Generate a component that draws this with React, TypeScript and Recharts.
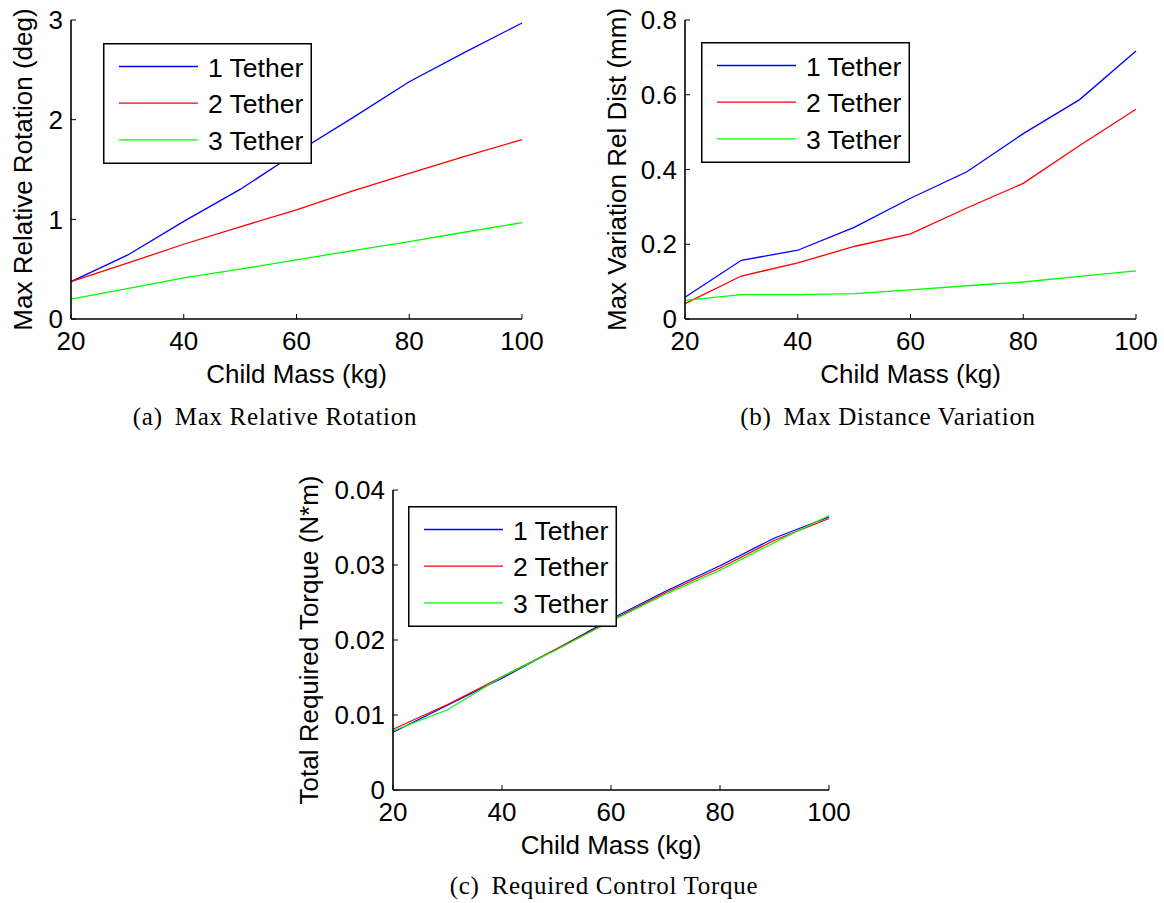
import React from 'react';
import { LineChart, Line, XAxis, YAxis, Legend } from 'recharts';

// Child mass sweep (kg)
const childMass = [20, 30, 40, 50, 60, 70, 80, 90, 100];
const massTicks = [20, 40, 60, 80, 100];
const seriesNames = ['1 Tether', '2 Tether', '3 Tether'];
const seriesColors = ['#0000ff', '#ff0000', '#00ff00'];

// (a) Max relative rotation (deg)
const rotation1 = [0.375, 0.64, 0.98, 1.3, 1.67, 2.02, 2.38, 2.68, 2.97];
const rotation2 = [0.375, 0.56, 0.75, 0.925, 1.095, 1.285, 1.46, 1.635, 1.8];
const rotation3 = [0.2, 0.305, 0.413, 0.5, 0.594, 0.687, 0.777, 0.873, 0.966];
const rotationTicks = [0, 1, 2, 3];

// (b) Max variation of relative distance (mm)
const distance1 = [0.058, 0.157, 0.184, 0.245, 0.323, 0.394, 0.496, 0.587, 0.717];
const distance2 = [0.041, 0.115, 0.15, 0.194, 0.228, 0.297, 0.363, 0.464, 0.561];
const distance3 = [0.05, 0.065, 0.065, 0.068, 0.078, 0.089, 0.099, 0.114, 0.129];
const distanceTicks = [0, 0.2, 0.4, 0.6, 0.8];

// (c) Total required control torque (N*m)
const torque1 = [0.0077, 0.0113, 0.0149, 0.0188, 0.0228, 0.0265, 0.0299, 0.0336, 0.0364];
const torque2 = [0.0081, 0.0114, 0.0151, 0.0188, 0.0226, 0.0263, 0.0296, 0.0333, 0.0362];
const torque3 = [0.0079, 0.0107, 0.0151, 0.0187, 0.0225, 0.0261, 0.0293, 0.033, 0.0366];
const torqueTicks = [0, 0.01, 0.02, 0.03, 0.04];

const SANS = '"Liberation Sans", Arial, sans-serif';
const SERIF = '"Liberation Serif", "Times New Roman", serif';
const FONT_SIZE = 26;

const buildRows = (s1: number[], s2: number[], s3: number[]) =>
  childMass.map((m, i) => ({ mass: m, t1: s1[i], t2: s2[i], t3: s3[i] }));

const LegendBox = (props: any) => {
  const payload = props.payload || [];
  const rowY = [23.5, 60.2, 96.9];
  return (
    <svg width={209} height={121} style={{ display: 'block' }}>
      <rect x={0.75} y={0.75} width={207.5} height={119.5} fill="#ffffff" stroke="#000" strokeWidth={1.5} />
      {payload.map((p: any, i: number) => (
        <g key={p.value}>
          <line x1={16} x2={95} y1={rowY[i]} y2={rowY[i]} stroke={p.color} strokeWidth={1.3} />
          <text x={105} y={rowY[i] + 10} fontSize={26.5} fontFamily={SANS} fill="#000">
            {p.value}
          </text>
        </g>
      ))}
    </svg>
  );
};

type PanelProps = {
  left: number;
  top: number;
  width: number;
  height: number;
  margin: { top: number; right: number; bottom: number; left: number };
  yAxisWidth: number;
  xAxisHeight: number;
  rows: any[];
  yDomain: [number, number];
  yTicks: number[];
  yLabel: string;
  yLabelOffset: number;
  legendLeft: number;
  legendTop: number;
};

const tickStyle = { fill: '#000', fontSize: FONT_SIZE, fontFamily: SANS };
const axisLineStyle = { stroke: '#000', strokeWidth: 1.6 };
const tickLineStyle = { stroke: '#000', strokeWidth: 1 };
const blank = () => '';

const Panel = (p: PanelProps) => (
  <div style={{ position: 'absolute', left: p.left, top: p.top }}>
    <LineChart width={p.width} height={p.height} data={p.rows} margin={p.margin}>
      <XAxis
        dataKey="mass"
        type="number"
        domain={[20, 100]}
        ticks={massTicks}
        height={p.xAxisHeight}
        axisLine={axisLineStyle}
        tickLine={tickLineStyle}
        tickSize={-5}
        tickMargin={18}
        tick={tickStyle}
        interval={0}
        label={{
          value: 'Child Mass (kg)',
          position: 'insideTop',
          offset: 46,
          style: { fill: '#000', fontSize: FONT_SIZE, fontFamily: SANS },
        }}
      />
      <XAxis
        xAxisId="top"
        orientation="top"
        dataKey="mass"
        type="number"
        domain={[20, 100]}
        ticks={massTicks}
        height={0}
        axisLine={axisLineStyle}
        tickLine={tickLineStyle}
        tickSize={-5}
        tickFormatter={blank}
        interval={0}
      />
      <YAxis
        type="number"
        domain={p.yDomain}
        ticks={p.yTicks}
        width={p.yAxisWidth}
        axisLine={axisLineStyle}
        tickLine={tickLineStyle}
        tickSize={-5}
        tickMargin={13}
        tick={tickStyle}
        interval={0}
        label={{
          value: p.yLabel,
          angle: -90,
          position: 'insideLeft',
          offset: p.yLabelOffset,
          style: { fill: '#000', fontSize: FONT_SIZE, fontFamily: SANS, textAnchor: 'middle' },
        }}
      />
      <YAxis
        yAxisId="right"
        orientation="right"
        type="number"
        domain={p.yDomain}
        ticks={p.yTicks}
        width={0}
        axisLine={axisLineStyle}
        tickLine={tickLineStyle}
        tickSize={-5}
        tickFormatter={blank}
        interval={0}
      />
      {['t1', 't2', 't3'].map((k, i) => (
        <Line
          key={k}
          type="linear"
          dataKey={k}
          name={seriesNames[i]}
          stroke={seriesColors[i]}
          strokeWidth={1.3}
          dot={false}
          activeDot={false}
          isAnimationActive={false}
        />
      ))}
      <Legend
        layout="vertical"
        align="center"
        verticalAlign="middle"
        content={<LegendBox />}
        wrapperStyle={{ left: p.legendLeft, top: p.legendTop, width: 209, height: 121, margin: 0 }}
      />
    </LineChart>
  </div>
);

const Caption = ({ tag, text, cx, cy }: { tag: string; text: string; cx: number; cy: number }) => (
  <div
    style={{
      position: 'absolute',
      left: cx - 250,
      top: cy - 14,
      width: 500,
      height: 28,
      lineHeight: '28px',
      textAlign: 'center',
      fontFamily: SERIF,
      fontSize: 25,
      letterSpacing: 0.7,
      color: '#000',
      whiteSpace: 'nowrap',
    }}
  >
    <span>{tag}</span>
    <span style={{ marginLeft: 12 }}>{text}</span>
  </div>
);

export default function App() {
  return (
    <div
      style={{
        position: 'absolute',
        left: 0,
        top: 0,
        width: 1164,
        height: 903,
        background: '#ffffff',
        overflow: 'hidden',
      }}
    >
      <Panel
        left={0}
        top={0}
        width={570}
        height={400}
        margin={{ top: 20, right: 48, bottom: 0, left: 0 }}
        yAxisWidth={71}
        xAxisHeight={81}
        rows={buildRows(rotation1, rotation2, rotation3)}
        yDomain={[0, 3]}
        yTicks={rotationTicks}
        yLabel="Max Relative Rotation (deg)"
        yLabelOffset={23}
        legendLeft={103}
        legendTop={43}
      />
      <Panel
        left={590}
        top={0}
        width={574}
        height={400}
        margin={{ top: 20, right: 28, bottom: 0, left: 0 }}
        yAxisWidth={95}
        xAxisHeight={81}
        rows={buildRows(distance1, distance2, distance3)}
        yDomain={[0, 0.8]}
        yTicks={distanceTicks}
        yLabel="Max Variation Rel Dist (mm)"
        yLabelOffset={27}
        legendLeft={111}
        legendTop={42}
      />
      <Panel
        left={290}
        top={460}
        width={580}
        height={443}
        margin={{ top: 30, right: 41, bottom: 0, left: 0 }}
        yAxisWidth={103}
        xAxisHeight={113}
        rows={buildRows(torque1, torque2, torque3)}
        yDomain={[0, 0.04]}
        yTicks={torqueTicks}
        yLabel="Total Required Torque (N*m)"
        yLabelOffset={19}
        legendLeft={118}
        legendTop={46}
      />
      <Caption tag="(a)" text="Max Relative Rotation" cx={275} cy={417} />
      <Caption tag="(b)" text="Max Distance Variation" cx={888} cy={417} />
      <Caption tag="(c)" text="Required Control Torque" cx={604} cy={886} />
    </div>
  );
}
